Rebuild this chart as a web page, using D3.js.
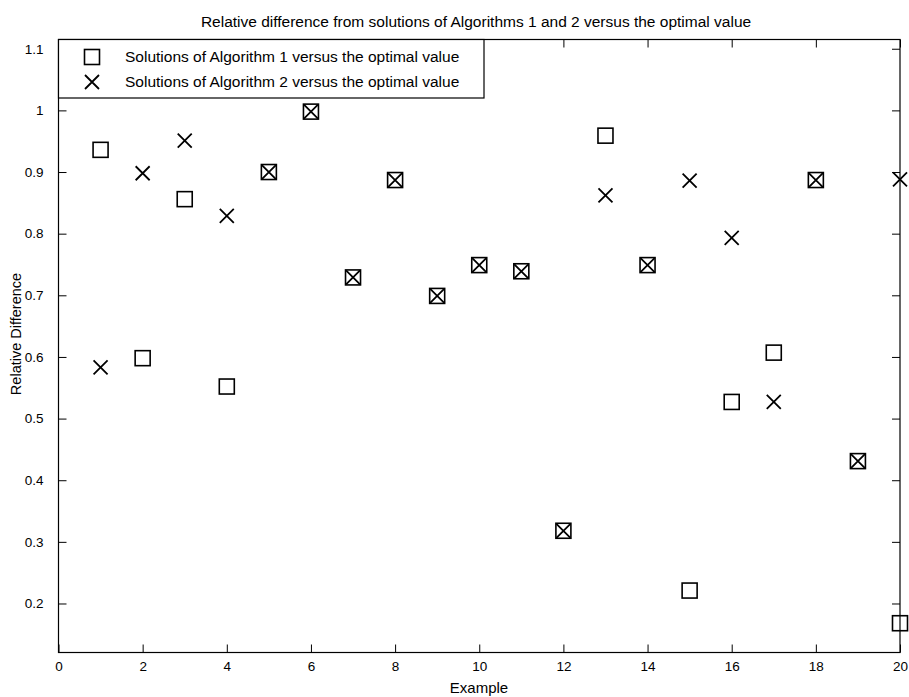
<!DOCTYPE html>
<html>
<head>
<meta charset="utf-8">
<script src="https://cdn.jsdelivr.net/npm/d3@7"></script>
<style>
  body { margin: 0; background: #fff; }
  text { font-family: Arial, "Liberation Sans", sans-serif; fill: #000; }
</style>
</head>
<body>
<script>
// example numbers on the x axis
var examples = [1, 2, 3, 4, 5, 6, 7, 8, 9, 10, 11, 12, 13, 14, 15, 16, 17, 18, 19, 20];

// relative difference of each algorithm against the optimal value
var alg1 = [0.936, 0.598, 0.856, 0.552, 0.900, 0.998, 0.729, 0.887, 0.699, 0.749,
            0.739, 0.318, 0.959, 0.749, 0.221, 0.527, 0.607, 0.887, 0.431, 0.168];
var alg2 = [0.583, 0.898, 0.951, 0.829, 0.900, 0.998, 0.729, 0.887, 0.699, 0.749,
            0.739, 0.318, 0.862, 0.749, 0.886, 0.793, 0.527, 0.887, 0.431, 0.888];

var xTicks = [0, 2, 4, 6, 8, 10, 12, 14, 16, 18, 20];
var yTicks = [0.2, 0.3, 0.4, 0.5, 0.6, 0.7, 0.8, 0.9, 1, 1.1];

var seriesNames = ['Solutions of Algorithm 1 versus the optimal value',
                   'Solutions of Algorithm 2 versus the optimal value'];

function drawChart() {
  var svgWidth = 909;
  var svgHeight = 697;
  var margin = { top: 39.5, right: 9, bottom: 44.5, left: 58.5 };
  var width = svgWidth - margin.left - margin.right;
  var height = svgHeight - margin.top - margin.bottom;
  var tickLen = 8;

  var svg = d3.select('body')
  .append('svg')
  .attr('width', svgWidth)
  .attr('height', svgHeight);

  var g = svg.append('g')
  .attr('transform', 'translate(' + margin.left + ',' + margin.top + ')');

  var xScale = d3.scaleLinear()
  .domain([0, 20])
  .range([0, width]);

  var yScale = d3.scaleLinear()
  .domain([0.1205, 1.115])
  .range([height, 0]);

  // MATLAB style box: ticks point inwards on all four sides
  function styleAxis(sel) {
    sel.select('.domain').remove();
    sel.selectAll('line').attr('stroke', '#000').attr('stroke-width', 1);
    sel.selectAll('text').style('font-size', '13.5px');
  }

  g.append('g')
  .attr('transform', 'translate(0,' + height + ')')
  .call(d3.axisBottom(xScale).tickValues(xTicks).tickSizeInner(-tickLen).tickSizeOuter(0).tickPadding(tickLen + 1))
  .call(styleAxis);

  g.append('g')
  .call(d3.axisTop(xScale).tickValues(xTicks).tickSizeInner(-tickLen).tickSizeOuter(0).tickFormat(''))
  .call(styleAxis);

  g.append('g')
  .call(d3.axisLeft(yScale).tickValues(yTicks).tickSizeInner(-tickLen).tickSizeOuter(0).tickPadding(tickLen + 7)
    .tickFormat(function (d) { return d === 1 ? '1' : d3.format('.1f')(d); }))
  .call(styleAxis);

  g.append('g')
  .attr('transform', 'translate(' + width + ',0)')
  .call(d3.axisRight(yScale).tickValues(yTicks).tickSizeInner(-tickLen).tickSizeOuter(0).tickFormat(''))
  .call(styleAxis);

  // frame
  g.append('rect')
  .attr('width', width)
  .attr('height', height)
  .attr('fill', 'none')
  .attr('stroke', '#000')
  .attr('stroke-width', 1.2);

  // markers
  var sq = 15;
  var xs = 7;

  g.append('g')
  .selectAll('rect')
  .data(alg1)
  .enter()
  .append('rect')
  .attr('x', function (d, i) { return xScale(examples[i]) - sq / 2; })
  .attr('y', function (d) { return yScale(d) - sq / 2; })
  .attr('width', sq)
  .attr('height', sq)
  .attr('fill', 'none')
  .attr('stroke', '#000')
  .attr('stroke-width', 1.6);

  g.append('g')
  .selectAll('path')
  .data(alg2)
  .enter()
  .append('path')
  .attr('d', function (d, i) {
    var cx = xScale(examples[i]);
    var cy = yScale(d);
    return 'M' + (cx - xs) + ',' + (cy - xs) + 'L' + (cx + xs) + ',' + (cy + xs) +
           'M' + (cx - xs) + ',' + (cy + xs) + 'L' + (cx + xs) + ',' + (cy - xs);
  })
  .attr('fill', 'none')
  .attr('stroke', '#000')
  .attr('stroke-width', 1.8);

  // legend box in the top left corner
  var legend = g.append('g');

  legend.append('rect')
  .attr('x', 0)
  .attr('y', 0)
  .attr('width', 425.5)
  .attr('height', 58.5)
  .attr('fill', '#fff')
  .attr('stroke', '#000')
  .attr('stroke-width', 1.2);

  legend.append('rect')
  .attr('x', 33.5 - sq / 2)
  .attr('y', 17.5 - sq / 2)
  .attr('width', sq)
  .attr('height', sq)
  .attr('fill', 'none')
  .attr('stroke', '#000')
  .attr('stroke-width', 1.6);

  legend.append('path')
  .attr('d', 'M' + (33.5 - xs) + ',' + (42.5 - xs) + 'L' + (33.5 + xs) + ',' + (42.5 + xs) +
             'M' + (33.5 - xs) + ',' + (42.5 + xs) + 'L' + (33.5 + xs) + ',' + (42.5 - xs))
  .attr('fill', 'none')
  .attr('stroke', '#000')
  .attr('stroke-width', 1.8);

  legend.selectAll('text')
  .data(seriesNames)
  .enter()
  .append('text')
  .attr('x', 66.5)
  .attr('y', function (d, i) { return 17.5 + i * 25; })
  .attr('dy', '0.35em')
  .style('font-size', '15.5px')
  .text(function (d) { return d; });

  // title and axis labels
  svg.append('text')
  .attr('x', 476)
  .attr('y', 22)
  .attr('dy', '0.35em')
  .attr('text-anchor', 'middle')
  .style('font-size', '15.5px')
  .text('Relative difference from solutions of Algorithms 1 and 2 versus the optimal value');

  svg.append('text')
  .attr('x', 479)
  .attr('y', 688)
  .attr('dy', '0.35em')
  .attr('text-anchor', 'middle')
  .style('font-size', '15px')
  .text('Example');

  svg.append('text')
  .attr('transform', 'translate(16,334) rotate(-90)')
  .attr('dy', '0.35em')
  .attr('text-anchor', 'middle')
  .style('font-size', '14.5px')
  .text('Relative Difference');
}

drawChart();
</script>
</body>
</html>
